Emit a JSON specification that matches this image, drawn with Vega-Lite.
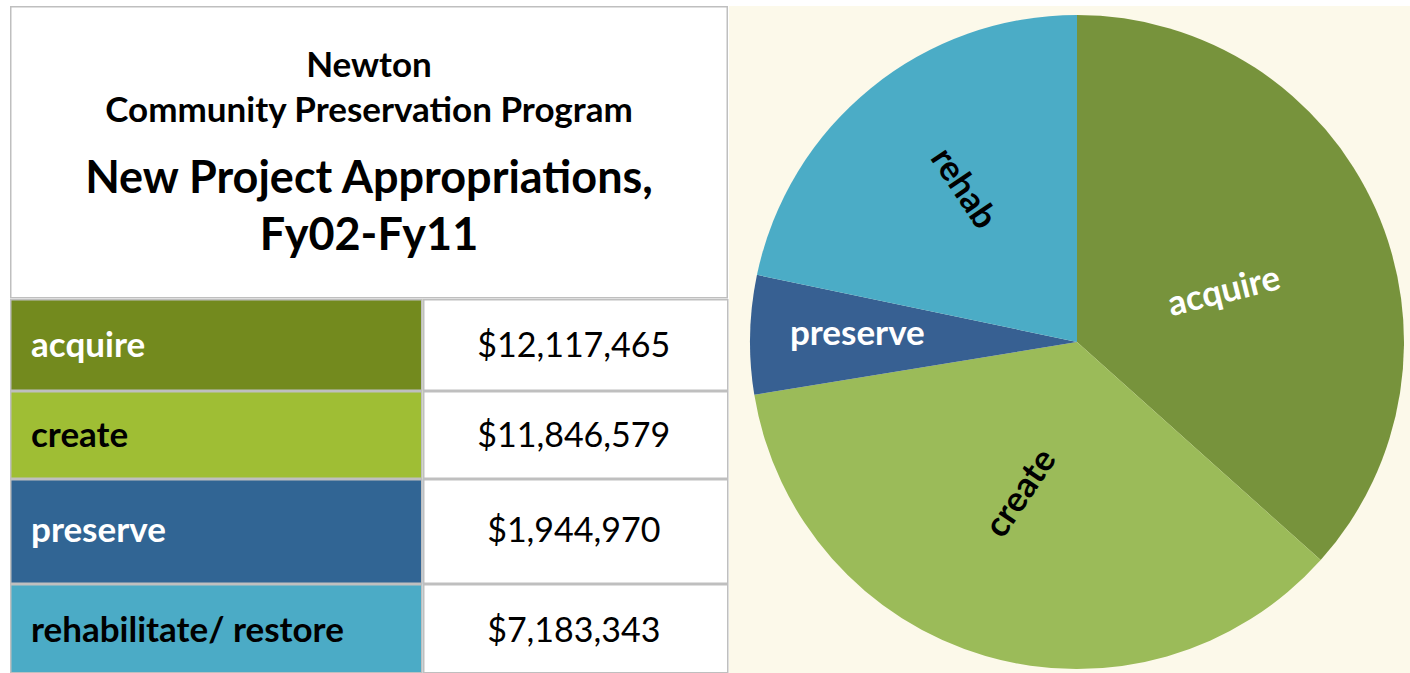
{
  "$schema": "https://vega.github.io/schema/vega-lite/v6.json",
  "padding": {"left": 10, "top": 6, "right": 0, "bottom": 0},
  "background": "#FFFFFF",
  "config": {"view": {"stroke": null}, "font": "Lato"},
  "datasets": {
    "table": [
      {"category": "acquire", "label": "acquire", "short": "acquire", "amount": 12117465},
      {"category": "create", "label": "create", "short": "create", "amount": 11846579},
      {"category": "preserve", "label": "preserve", "short": "preserve", "amount": 1944970},
      {"category": "rehabilitate/ restore", "label": "rehabilitate/ restore", "short": "rehab", "amount": 7183343}
    ],
    "heading": [
      {"line": "Newton", "level": "sub"},
      {"line": "Community Preservation Program", "level": "sub"},
      {"line": "New Project Appropriations,", "level": "main"},
      {"line": "Fy02-Fy11", "level": "main"}
    ]
  },
  "spacing": 0,
  "resolve": {"scale": {"color": "independent"}},
  "hconcat": [
    {
      "spacing": 0,
      "vconcat": [
        {
          "width": 718, "height": 292.5,
          "data": {"name": "heading"},
          "layer": [
            {
              "transform": [{"filter": {"field": "line", "equal": "Newton"}}],
              "mark": {"type": "rect", "fill": "#FFFFFF", "stroke": "#BFBFBF", "strokeWidth": 3, "clip": true},
              "encoding": {}
            },
            {
              "transform": [{"filter": {"field": "level", "equal": "sub"}}],
              "mark": {"type": "text", "baseline": "alphabetic", "font": "Lato", "fontSize": 35, "fontWeight": "bold", "color": "#000000"},
              "encoding": {
                "text": {"field": "line"},
                "y": {"field": "line", "type": "ordinal", "sort": null, "scale": {"type": "point", "range": [71.3, 116], "padding": 0}, "axis": null}
              }
            },
            {
              "transform": [{"filter": {"field": "level", "equal": "main"}}],
              "mark": {"type": "text", "baseline": "alphabetic", "font": "Lato", "fontSize": 45, "fontWeight": "bold", "color": "#000000"},
              "encoding": {
                "text": {"field": "line"},
                "y": {"field": "line", "type": "ordinal", "sort": null, "scale": {"type": "point", "range": [187, 244], "padding": 0}, "axis": null}
              }
            }
          ],
          "resolve": {"scale": {"y": "independent"}}
        },
        {
          "spacing": 0,
          "hconcat": [
            {
              "width": 412.5, "height": 92,
              "data": {"name": "table"},
              "transform": [{"filter": {"field": "category", "equal": "acquire"}}],
              "layer": [
                {"mark": {"type": "rect", "stroke": "#BFBFBF", "strokeWidth": 3, "clip": true},
                 "encoding": {"color": {"field": "category", "type": "nominal", "scale": {"domain": ["acquire", "create", "preserve", "rehabilitate/ restore"], "range": ["#738A1E", "#9FBE34", "#316594", "#4BABC6"]}, "legend": null}}},
                {"mark": {"type": "text", "align": "left", "baseline": "alphabetic", "dx": -185.25, "dy": 11.5, "font": "Lato", "fontSize": 35, "fontWeight": "bold", "color": "#FFFFFF"},
                 "encoding": {"text": {"field": "label"}}}
              ]
            },
            {
              "width": 305.5, "height": 92,
              "data": {"name": "table"},
              "transform": [{"filter": {"field": "category", "equal": "acquire"}}],
              "layer": [
                {"mark": {"type": "rect", "fill": "#FFFFFF", "stroke": "#BFBFBF", "strokeWidth": 3, "clip": true}, "encoding": {}},
                {"mark": {"type": "text", "baseline": "alphabetic", "dx": -2, "dy": 11.5, "font": "Lato", "fontSize": 34, "color": "#000000"},
                 "encoding": {"text": {"field": "amount", "type": "quantitative", "format": "$,.0f"}}}
              ]
            }
          ]
        },
        {
          "spacing": 0,
          "hconcat": [
            {
              "width": 412.5, "height": 88,
              "data": {"name": "table"},
              "transform": [{"filter": {"field": "category", "equal": "create"}}],
              "layer": [
                {"mark": {"type": "rect", "stroke": "#BFBFBF", "strokeWidth": 3, "clip": true},
                 "encoding": {"color": {"field": "category", "type": "nominal", "scale": {"domain": ["acquire", "create", "preserve", "rehabilitate/ restore"], "range": ["#738A1E", "#9FBE34", "#316594", "#4BABC6"]}, "legend": null}}},
                {"mark": {"type": "text", "align": "left", "baseline": "alphabetic", "dx": -185.25, "dy": 12.2, "font": "Lato", "fontSize": 35, "fontWeight": "bold", "color": "#000000"},
                 "encoding": {"text": {"field": "label"}}}
              ]
            },
            {
              "width": 305.5, "height": 88,
              "data": {"name": "table"},
              "transform": [{"filter": {"field": "category", "equal": "create"}}],
              "layer": [
                {"mark": {"type": "rect", "fill": "#FFFFFF", "stroke": "#BFBFBF", "strokeWidth": 3, "clip": true}, "encoding": {}},
                {"mark": {"type": "text", "baseline": "alphabetic", "dx": -2, "dy": 12.2, "font": "Lato", "fontSize": 34, "color": "#000000"},
                 "encoding": {"text": {"field": "amount", "type": "quantitative", "format": "$,.0f"}}}
              ]
            }
          ]
        },
        {
          "spacing": 0,
          "hconcat": [
            {
              "width": 412.5, "height": 105,
              "data": {"name": "table"},
              "transform": [{"filter": {"field": "category", "equal": "preserve"}}],
              "layer": [
                {"mark": {"type": "rect", "stroke": "#BFBFBF", "strokeWidth": 3, "clip": true},
                 "encoding": {"color": {"field": "category", "type": "nominal", "scale": {"domain": ["acquire", "create", "preserve", "rehabilitate/ restore"], "range": ["#738A1E", "#9FBE34", "#316594", "#4BABC6"]}, "legend": null}}},
                {"mark": {"type": "text", "align": "left", "baseline": "alphabetic", "dx": -185.25, "dy": 10.7, "font": "Lato", "fontSize": 35, "fontWeight": "bold", "color": "#FFFFFF"},
                 "encoding": {"text": {"field": "label"}}}
              ]
            },
            {
              "width": 305.5, "height": 105,
              "data": {"name": "table"},
              "transform": [{"filter": {"field": "category", "equal": "preserve"}}],
              "layer": [
                {"mark": {"type": "rect", "fill": "#FFFFFF", "stroke": "#BFBFBF", "strokeWidth": 3, "clip": true}, "encoding": {}},
                {"mark": {"type": "text", "baseline": "alphabetic", "dx": -2, "dy": 10.7, "font": "Lato", "fontSize": 34, "color": "#000000"},
                 "encoding": {"text": {"field": "amount", "type": "quantitative", "format": "$,.0f"}}}
              ]
            }
          ]
        },
        {
          "spacing": 0,
          "hconcat": [
            {
              "width": 412.5, "height": 89.5,
              "data": {"name": "table"},
              "transform": [{"filter": {"field": "category", "equal": "rehabilitate/ restore"}}],
              "layer": [
                {"mark": {"type": "rect", "stroke": "#BFBFBF", "strokeWidth": 3, "clip": true},
                 "encoding": {"color": {"field": "category", "type": "nominal", "scale": {"domain": ["acquire", "create", "preserve", "rehabilitate/ restore"], "range": ["#738A1E", "#9FBE34", "#316594", "#4BABC6"]}, "legend": null}}},
                {"mark": {"type": "text", "align": "left", "baseline": "alphabetic", "dx": -185.25, "dy": 13.45, "font": "Lato", "fontSize": 35, "fontWeight": "bold", "color": "#000000"},
                 "encoding": {"text": {"field": "label"}}}
              ]
            },
            {
              "width": 305.5, "height": 89.5,
              "data": {"name": "table"},
              "transform": [{"filter": {"field": "category", "equal": "rehabilitate/ restore"}}],
              "layer": [
                {"mark": {"type": "rect", "fill": "#FFFFFF", "stroke": "#BFBFBF", "strokeWidth": 3, "clip": true}, "encoding": {}},
                {"mark": {"type": "text", "baseline": "alphabetic", "dx": -2, "dy": 13.45, "font": "Lato", "fontSize": 34, "color": "#000000"},
                 "encoding": {"text": {"field": "amount", "type": "quantitative", "format": "$,.0f"}}}
              ]
            }
          ]
        }
      ]
    },
    {
      "width": 682, "height": 667,
      "view": {"fill": "#FCF9EA", "stroke": null},
      "data": {"name": "table"},
      "encoding": {"theta": {"field": "amount", "type": "quantitative", "stack": true}},
      "layer": [
        {"mark": {"type": "arc", "outerRadius": 327, "xOffset": 7, "yOffset": 2.5},
         "encoding": {"color": {"field": "category", "type": "nominal", "scale": {"domain": ["acquire", "create", "preserve", "rehabilitate/ restore"], "range": ["#77933C", "#9BBB59", "#376092", "#4BACC6"]}, "legend": null}}},
        {"mark": {"type": "text", "radius": 155.4, "angle": -14, "xOffset": 12.2, "yOffset": 15.6, "baseline": "middle", "font": "Lato", "fontSize": 35, "fontWeight": "bold", "color": "#FFFFFF"},
         "encoding": {"detail": {"field": "category"}, "text": {"condition": {"test": "datum.category === 'acquire'", "field": "short", "type": "nominal"}, "value": ""}}},
        {"mark": {"type": "text", "radius": 161.3, "angle": -56, "xOffset": -4, "yOffset": -1.1, "baseline": "middle", "font": "Lato", "fontSize": 35, "fontWeight": "bold", "color": "#000000"},
         "encoding": {"detail": {"field": "category"}, "text": {"condition": {"test": "datum.category === 'create'", "field": "short", "type": "nominal"}, "value": ""}}},
        {"mark": {"type": "text", "radius": 219.7, "angle": 0, "xOffset": 7, "yOffset": -0.5, "baseline": "middle", "font": "Lato", "fontSize": 35, "fontWeight": "bold", "color": "#FFFFFF"},
         "encoding": {"detail": {"field": "category"}, "text": {"condition": {"test": "datum.category === 'preserve'", "field": "short", "type": "nominal"}, "value": ""}}},
        {"mark": {"type": "text", "radius": 191, "angle": 56, "xOffset": 13.7, "yOffset": -2.7, "baseline": "middle", "font": "Lato", "fontSize": 35, "fontWeight": "bold", "color": "#000000"},
         "encoding": {"detail": {"field": "category"}, "text": {"condition": {"test": "datum.category === 'rehabilitate/ restore'", "field": "short", "type": "nominal"}, "value": ""}}}
      ]
    }
  ]
}
